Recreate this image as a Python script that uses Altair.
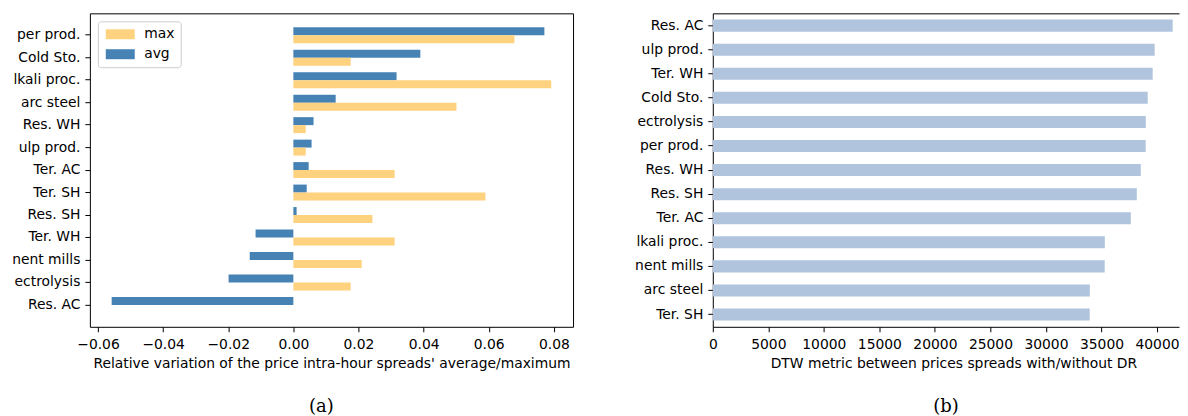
import altair as alt
import pandas as pd

# ---------------- data ----------------
# left panel (a): sectors as displayed (labels are cropped in the original figure)
left_labels = ["per prod.", "Cold Sto.", "lkali proc.", "arc steel", "Res. WH",
               "ulp prod.", "Ter. AC", "Ter. SH", "Res. SH", "Ter. WH",
               "nent mills", "ectrolysis", "Res. AC"]
avg_vals = [0.0771, 0.0390, 0.0317, 0.0130, 0.0062, 0.0056, 0.0047, 0.0041,
            0.0010, -0.0116, -0.0134, -0.0199, -0.0558]
max_vals = [0.0679, 0.0176, 0.0792, 0.0501, 0.0038, 0.0038, 0.0311, 0.0590,
            0.0243, 0.0311, 0.0210, 0.0176, 0.0]
series_legend = ["max", "avg"]
series_colors = ["#FFD27F", "#4682B4"]
left_ticks = [-0.06, -0.04, -0.02, 0.0, 0.02, 0.04, 0.06, 0.08]

# right panel (b)
right_labels = ["Res. AC", "ulp prod.", "Ter. WH", "Cold Sto.", "ectrolysis",
                "per prod.", "Res. WH", "Res. SH", "Ter. AC", "lkali proc.",
                "nent mills", "arc steel", "Ter. SH"]
dtw_vals = [41410, 39790, 39610, 39160, 38990, 38980, 38540, 38180, 37640,
            35300, 35290, 33950, 33940]
right_ticks = [0, 5000, 10000, 15000, 20000, 25000, 30000, 35000, 40000]

rows = []
for lab, a, m in zip(left_labels, avg_vals, max_vals):
    rows.append({"sector": lab, "series": "avg", "value": a})
    rows.append({"sector": lab, "series": "max", "value": m})
left_df = pd.DataFrame(rows)
right_df = pd.DataFrame({"sector": right_labels, "dtw": dtw_vals})

FONT = "DejaVu Sans"
FS = 13.9

left = alt.Chart(left_df).mark_bar().encode(
    y=alt.Y("sector:N", sort=left_labels, title=None,
            scale=alt.Scale(paddingInner=0.29, paddingOuter=0.62),
            axis=alt.Axis(domain=False, tickSize=5, labelPadding=5,
                          minExtent=81, maxExtent=81)),
    yOffset=alt.YOffset("series:N", sort=["avg", "max"],
                        scale=alt.Scale(paddingInner=0, paddingOuter=0)),
    x=alt.X("value:Q",
            scale=alt.Scale(domain=[-0.0625, 0.0859], nice=False, zero=False),
            axis=alt.Axis(values=left_ticks, format=".2f", domain=False, grid=False,
                          labelFlush=False, labelOverlap=False, tickSize=5,
                          labelPadding=6, titlePadding=5,
                          title="Relative variation of the price intra-hour spreads' average/maximum")),
    color=alt.Color("series:N",
                    scale=alt.Scale(domain=series_legend, range=series_colors),
                    legend=alt.Legend(orient="top-left", title=None, offset=8,
                                      fillColor="white", strokeColor="#CCCCCC",
                                      cornerRadius=3, padding=6,
                                      symbolType="M-2.9,-1H2.9V1H-2.9Z",
                                      symbolSize=100, symbolOffset=9.5,
                                      symbolStrokeWidth=0,
                                      symbolOpacity=1, labelFontSize=FS,
                                      labelFont=FONT, labelColor="black",
                                      labelOffset=17, rowPadding=5)),
).properties(
    width=484, height=314,
    title=alt.TitleParams("(a)", orient="bottom", anchor="middle",
                          font="DejaVu Serif", fontSize=18, fontWeight="normal",
                          color="black", offset=28, dx=-10),
)

right_bars = alt.Chart(right_df).mark_bar(color="#B0C4DE").encode(
    y=alt.Y("sector:N", sort=right_labels, title=None,
            scale=alt.Scale(paddingInner=0.5, paddingOuter=0.26),
            axis=alt.Axis(domain=True, tickSize=5, labelPadding=5)),
    x=alt.X("dtw:Q", scale=alt.Scale(domain=[0, 41980], nice=False),
            axis=alt.Axis(values=right_ticks, format="d", grid=False, domain=True,
                          labelFlush=False, labelOverlap=False, tickSize=5,
                          labelPadding=6, titlePadding=5, titleX=241,
                          title="DTW metric between prices spreads with/without DR")),
)
right_top = alt.Chart(right_df).mark_bar(opacity=0).encode(
    y=alt.Y("sector:N", sort=right_labels, title=None),
    x=alt.X("dtw:Q", axis=alt.Axis(orient="top", labels=False, ticks=False,
                                   title=None, grid=False, domain=True)),
)
right = alt.layer(right_bars, right_top).resolve_axis(x="independent").properties(
    width=467, height=314,
    view=alt.ViewBackground(stroke="transparent"),
    title=alt.TitleParams("(b)", orient="bottom", anchor="middle",
                          font="DejaVu Serif", fontSize=18, fontWeight="normal",
                          color="black", offset=28, dx=0),
)

chart = alt.hconcat(left, right, spacing=140, bounds="flush").properties(
    padding={"left": 0, "top": 4, "right": 0, "bottom": 0}
).configure(font=FONT).configure_view(
    stroke="black", strokeWidth=1
).configure_axis(
    labelFont=FONT, labelFontSize=FS, labelColor="black",
    titleFont=FONT, titleFontSize=FS, titleFontWeight="normal", titleColor="black",
    tickColor="black", tickWidth=1, domainColor="black", domainWidth=1,
)

chart.save("out.html", embed_options={"renderer": "svg", "actions": False})
